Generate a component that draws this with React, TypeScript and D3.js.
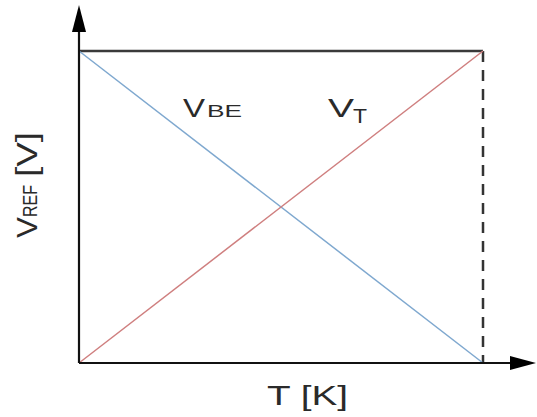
import React from "react";
import * as d3 from "d3";

const temps = [0, 1];
const vbe = [1, 0];
const vt = [0, 1];
const topLevel = [1, 1];

export default function App() {
  const W = 537, H = 417;
  const x = d3.scaleLinear().domain([0, 1]).range([79, 483]);
  const y = d3.scaleLinear().domain([0, 1]).range([363, 51]);
  const line = (vals: number[]) =>
    d3.line<number>().x((_, i) => x(temps[i])).y((d) => y(d))(vals) || "";
  const font = "'Liberation Sans', Arial, sans-serif";
  return (
    <svg width={W} height={H} style={{ position: "absolute", left: 0, top: 0, background: "#fff" }}>
      <path d={line(topLevel)} stroke="#3a3a3a" strokeWidth={2.5} fill="none" />
      <line x1={x(1)} x2={x(1)} y1={y(1)} y2={y(0)} stroke="#333" strokeWidth={2.5} strokeDasharray="11,8" />
      <path d={line(vbe)} stroke="#7fa8cf" strokeWidth={1.5} fill="none" />
      <path d={line(vt)} stroke="#cf7f7f" strokeWidth={1.5} fill="none" />
      {/* axes */}
      <line x1={x(0)} x2={x(0)} y1={y(0)} y2={30} stroke="#111" strokeWidth={2.2} />
      <path d={`M${x(0)},5 L${x(0) - 7},32 L${x(0) + 7},32 Z`} fill="#000" />
      <line x1={x(0)} x2={512} y1={y(0)} y2={y(0)} stroke="#111" strokeWidth={2.2} />
      <path d={`M536,${y(0)} L510,${y(0) - 7} L510,${y(0) + 7} Z`} fill="#000" />
      {/* labels */}
      <text x={183} y={117} fontFamily={font} fill="#2a2a2a">
        <tspan fontSize={26} textLength={22} lengthAdjust="spacingAndGlyphs">V</tspan>
        <tspan fontSize={17} dx={2} textLength={35} lengthAdjust="spacingAndGlyphs">BE</tspan>
      </text>
      <text x={328} y={117} fontFamily={font} fill="#2a2a2a">
        <tspan fontSize={26} textLength={26} lengthAdjust="spacingAndGlyphs">V</tspan>
        <tspan fontSize={21} dx={-1} dy={6} textLength={14} lengthAdjust="spacingAndGlyphs">T</tspan>
      </text>
      <text x={267} y={405} fontFamily={font} fontSize={27} fill="#2a2a2a" textLength={81} lengthAdjust="spacingAndGlyphs">T [K]</text>
      <g transform="translate(37,238) rotate(-90)">
        <text x={0} y={0} fontFamily={font} fill="#2a2a2a">
          <tspan fontSize={30} textLength={21} lengthAdjust="spacingAndGlyphs">V</tspan>
          <tspan fontSize={20} dx={0} textLength={32} lengthAdjust="spacingAndGlyphs">REF</tspan>
          <tspan fontSize={30} dx={8} textLength={45} lengthAdjust="spacingAndGlyphs">[V]</tspan>
        </text>
      </g>
    </svg>
  );
}
